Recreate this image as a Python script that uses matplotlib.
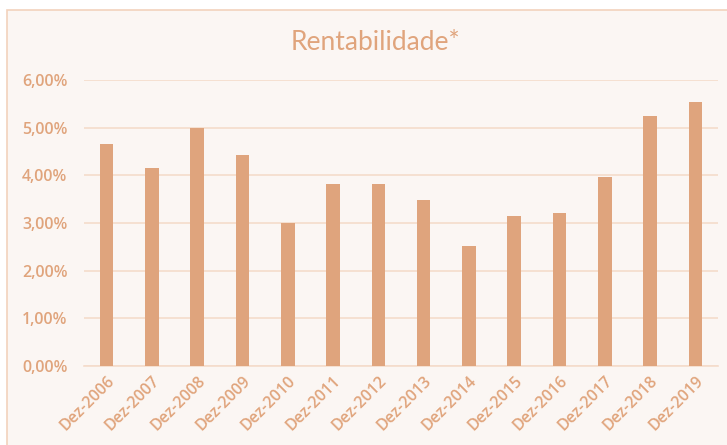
import matplotlib
matplotlib.use("Agg")
import matplotlib.pyplot as plt
from matplotlib.patches import Rectangle
from matplotlib.ticker import FuncFormatter

categories = ["Dez-2006", "Dez-2007", "Dez-2008", "Dez-2009", "Dez-2010", "Dez-2011", "Dez-2012",
              "Dez-2013", "Dez-2014", "Dez-2015", "Dez-2016", "Dez-2017", "Dez-2018", "Dez-2019"]
values = [4.66, 4.16, 5.00, 4.43, 3.00, 3.82, 3.82, 3.49, 2.52, 3.15, 3.20, 3.96, 5.25, 5.54]
yticks = [0, 1, 2, 3, 4, 5, 6]

bar_color = "#DFA47D"
text_color = "#E0A47C"
grid_color = "#F4DCCB"
bg_color = "#FBF6F3"
border_color = "#F2D2BC"

W, H = 727, 445
fig = plt.figure(figsize=(W / 100, H / 100), dpi=100)
fig.patch.set_facecolor("white")

# chart area background with border
bg = Rectangle((7 / W, -0.05), 1.2, 1 - 10 / H + 0.05, transform=fig.transFigure,
               facecolor=bg_color, edgecolor=border_color, linewidth=1.2, zorder=-10)
fig.add_artist(bg)

ax = fig.add_axes([84 / W, 1 - 366 / H, (718 - 84) / W, (366 - 80) / H])
ax.set_zorder(5)
ax.set_facecolor("none")
x = list(range(len(categories)))
ax.bar(x, values, width=0.3, color=bar_color, zorder=3)
ax.set_xlim(-0.5, len(categories) - 0.5)
ax.set_ylim(0, 6)
ax.set_yticks(yticks)
ax.yaxis.set_major_formatter(FuncFormatter(lambda v, p: f"{v:.2f}%".replace(".", ",")))
ax.grid(axis="y", color=grid_color, linewidth=1.2, zorder=0)
for s in ["top", "right", "left"]:
    ax.spines[s].set_visible(False)
ax.spines["bottom"].set_color(grid_color)
ax.spines["bottom"].set_linewidth(1.2)
ax.tick_params(axis="both", length=0, colors=text_color, labelsize=11.5)
ax.tick_params(axis="y", pad=12)
ax.tick_params(axis="x", pad=5)
ax.set_xticks(x)
ax.set_xticklabels(categories, rotation=45, ha="right", rotation_mode="anchor")
for lab in ax.get_xticklabels() + ax.get_yticklabels():
    lab.set_fontfamily("Open Sans")
    lab.set_fontweight("semibold")
    lab.set_color(text_color)

fig.text(375 / W, 1 - 42 / H, "Rentabilidade*", ha="center", va="center", fontsize=19,
         color=text_color, family="Lato", zorder=6)

fig.savefig("out.png", dpi=100, facecolor=fig.get_facecolor())
